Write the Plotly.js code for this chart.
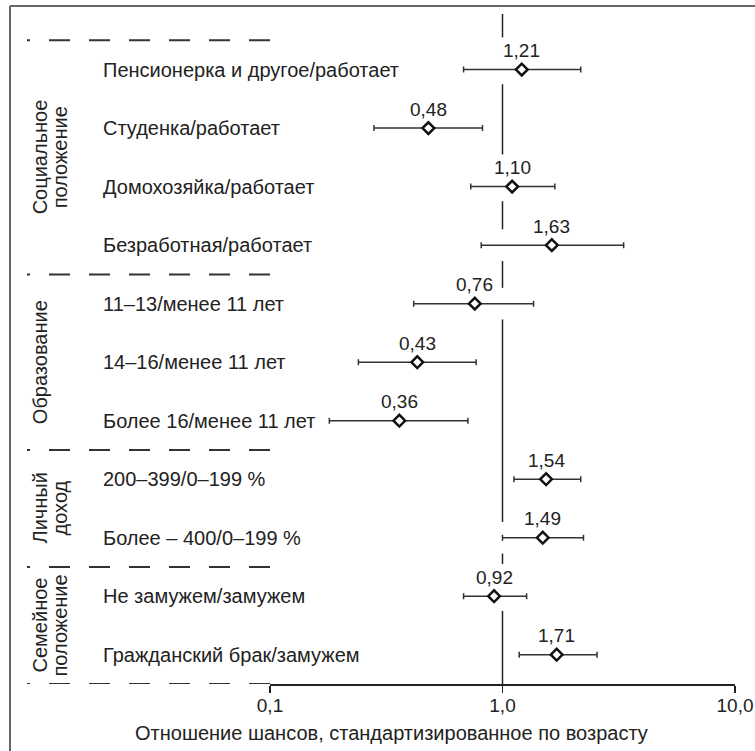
<!DOCTYPE html>
<html>
<head>
<meta charset="utf-8">
<script src="https://cdn.plot.ly/plotly-3.0.1.min.js"></script>
<style>html,body{margin:0;padding:0;background:#fff;}#chart{width:755px;height:751px;}</style>
</head>
<body>
<div id="chart"></div>
<script>
// ---- data ----
const rowLabels = [
  'Пенсионерка и другое/работает',
  'Студенка/работает',
  'Домохозяйка/работает',
  'Безработная/работает',
  '11–13/менее 11 лет',
  '14–16/менее 11 лет',
  'Более 16/менее 11 лет',
  '200–399/0–199 %',
  'Более – 400/0–199 %',
  'Не замужем/замужем',
  'Гражданский брак/замужем'
];
const estimates = [1.21, 0.48, 1.10, 1.63, 0.76, 0.43, 0.36, 1.54, 1.49, 0.92, 1.71];
const ciLow     = [0.68, 0.28, 0.73, 0.81, 0.415, 0.24, 0.18, 1.12, 1.00, 0.68, 1.18];
const ciHigh    = [2.17, 0.82, 1.68, 3.32, 1.36, 0.77, 0.71, 2.17, 2.23, 1.27, 2.55];
const groupNames = [['Социальное', 'положение'], ['Образование'], ['Личный', 'доход'], ['Семейное', 'положение']];
const groupFirstRow = [0, 4, 7, 9];
const groupLastRow  = [3, 6, 8, 10];
const tickVals = [0.1, 1, 10];
const tickText = ['0,1', '1,0', '10,0'];
const axisTitle = 'Отношение шансов, стандартизированное по возрасту';

// ---- layout geometry ----
const W = 755, H = 751;
const L = 270, R = 20, T = 14, B = 67;
const plotW = W - L - R, plotH = H - T - B;
const px2paperX = p => (p - L) / plotW;
const px2paperY = p => (H - B - p) / plotH;
const FONT = '"Liberation Sans", Arial, sans-serif';
const TXT = '#222';
const rows = rowLabels.map((_, i) => i);
const yTop = -0.95, yBot = rows.length - 0.5;

// reference line at OR = 1, broken where an interval or its label crosses it
const gaps = [];
rows.forEach(i => {
  const crosses = ciLow[i] <= 1 && ciHigh[i] >= 1;
  const labelNear = Math.abs(Math.log10(estimates[i])) < 0.1;
  if (labelNear) gaps.push([i - 0.55, i + 0.25]);
  else if (crosses) gaps.push([i - 0.27, i + 0.27]);
});
const refX = [], refY = [];
let cur = yTop;
gaps.forEach(g => {
  if (g[0] > cur) { refX.push(1, 1, null); refY.push(cur, g[0], null); }
  cur = Math.max(cur, g[1]);
});
refX.push(1, 1); refY.push(cur, yBot);

const traces = [
  {
    x: refX, y: refY, mode: 'lines', type: 'scatter',
    line: {color: '#222', width: 1.5}, hoverinfo: 'skip', showlegend: false, cliponaxis: false
  },
  {
    x: estimates, y: rows, type: 'scatter', mode: 'markers',
    marker: {symbol: 'diamond', size: 9, color: '#fff', line: {color: '#111', width: 2.5}},
    error_x: {
      type: 'data', symmetric: false,
      array: estimates.map((v, i) => ciHigh[i] - v),
      arrayminus: estimates.map((v, i) => v - ciLow[i]),
      color: '#333', thickness: 1.5, width: 3
    },
    showlegend: false, hoverinfo: 'skip', cliponaxis: false
  }
];

const annotations = [];
// value labels
rows.forEach(i => {
  annotations.push({
    x: Math.log10(estimates[i]), y: i, xref: 'x', yref: 'y',
    text: estimates[i].toFixed(2).replace('.', ','), showarrow: false,
    yshift: 19, xanchor: 'center', yanchor: 'middle',
    font: {family: FONT, size: 19, color: TXT}
  });
});
// row labels
rows.forEach(i => {
  annotations.push({
    x: px2paperX(101), y: i, xref: 'paper', yref: 'y',
    text: rowLabels[i], showarrow: false, xanchor: 'left', yanchor: 'middle',
    font: {family: FONT, size: 20, color: TXT}
  });
});
// group labels (rotated)
groupNames.forEach((lines, g) => {
  const yc = (groupFirstRow[g] + groupLastRow[g]) / 2;
  lines.forEach((t, j) => {
    annotations.push({
      x: px2paperX(40 + 20 * j), y: yc, xref: 'paper', yref: 'y',
      text: t, showarrow: false, textangle: -90, xanchor: 'center', yanchor: 'middle',
      font: {family: FONT, size: 20, color: TXT}
    });
  });
});
// axis title
annotations.push({
  x: px2paperX(391), y: px2paperY(733), xref: 'paper', yref: 'paper',
  text: axisTitle, showarrow: false, xanchor: 'center', yanchor: 'middle',
  font: {family: FONT, size: 20, color: TXT}
});

const shapes = [];
// dashed separators between groups
const sepRows = [groupFirstRow[0] - 0.5].concat(groupLastRow.map(r => r + 0.5));
sepRows.forEach(r => {
  shapes.push({
    type: 'line', xref: 'paper', yref: 'y',
    x0: 0, x1: px2paperX(27), y0: r, y1: r,
    line: {color: '#333', width: 2, dash: '21px,19px'}
  });
});
// outer frame (left and top)
shapes.push({type: 'line', xref: 'paper', yref: 'paper',
  x0: px2paperX(10), x1: px2paperX(10), y0: px2paperY(6), y1: px2paperY(H + 5),
  line: {color: '#666', width: 2}});
shapes.push({type: 'line', xref: 'paper', yref: 'paper',
  x0: px2paperX(10), x1: px2paperX(W + 5), y0: px2paperY(6), y1: px2paperY(6),
  line: {color: '#666', width: 2}});

const layout = {
  width: W, height: H,
  margin: {l: L, r: R, t: T, b: B, pad: 0},
  paper_bgcolor: '#fff', plot_bgcolor: '#fff',
  font: {family: FONT, color: TXT, size: 19},
  showlegend: false,
  xaxis: {
    type: 'log', range: [Math.log10(tickVals[0]), Math.log10(tickVals[2])],
    tickvals: tickVals, ticktext: tickText,
    showgrid: false, zeroline: false,
    showline: true, linecolor: '#222', linewidth: 1.5,
    ticks: 'outside', ticklen: 7, tickwidth: 1.5, tickcolor: '#222',
    ticklabelstandoff: -3,
    tickfont: {family: FONT, size: 19, color: TXT},
    fixedrange: true
  },
  yaxis: {
    range: [yBot, yTop], visible: false, showgrid: false, zeroline: false, fixedrange: true
  },
  annotations: annotations,
  shapes: shapes
};

Plotly.newPlot('chart', traces, layout, {staticPlot: true, displayModeBar: false});
</script>
</body>
</html>
